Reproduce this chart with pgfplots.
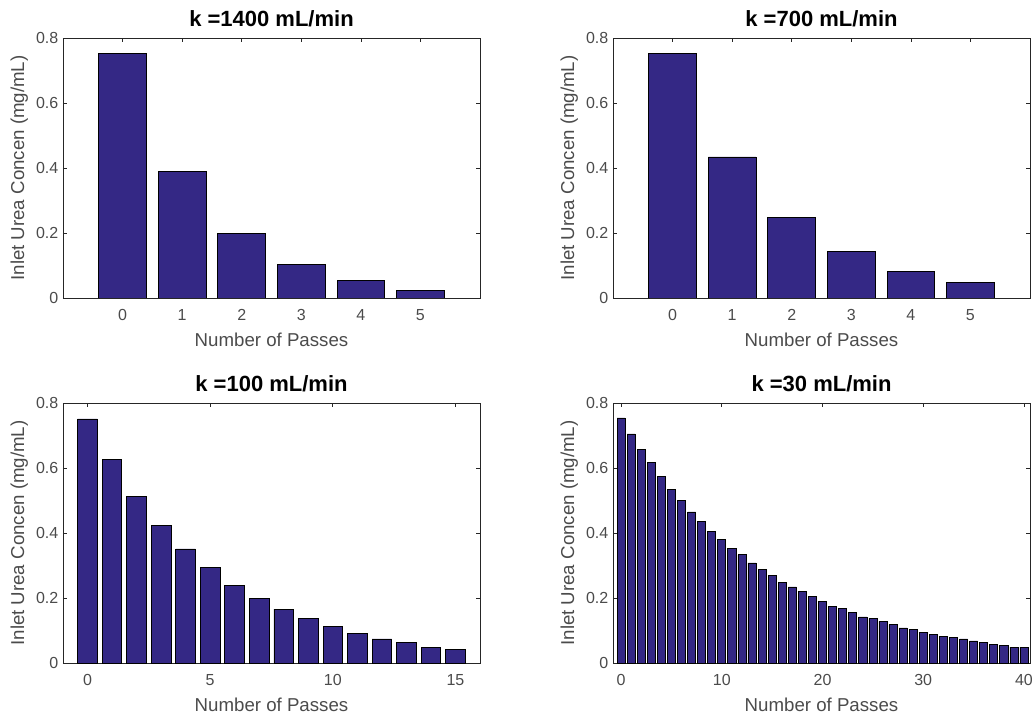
\documentclass[border=0pt]{standalone}
\usepackage{fontspec}
\setmainfont{Liberation Sans}
\usepackage{pgfplots}
\pgfplotsset{compat=1.18}

\definecolor{barfill}{RGB}{52,40,133}
\definecolor{axgray}{RGB}{38,38,38}
\definecolor{txtgray}{RGB}{75,75,75}

\begin{document}
\begin{tikzpicture}

% MATLAB-like subplot style (1 px = 0.75 pt)
\pgfplotsset{
  mpanel/.style={
    scale only axis,
    width=312.75pt, height=195pt,
    anchor=south west,
    ymin=0, ymax=0.8,
    ytick={0,0.2,0.4,0.6,0.8},
    yticklabels={0,0.2,0.4,0.6,0.8},
    axis line style={axgray, line width=0.6pt},
    tick style={axgray, line width=0.5pt},
    tick align=inside,
    major tick length=3pt,
    xtick pos=both, ytick pos=both,
    ticklabel style={font=\fontsize{12}{14}\selectfont, text=txtgray},
    xticklabel style={anchor=base, yshift=-17pt},
    /pgf/number format/assume math mode=true,
    xlabel={Number of Passes},
    ylabel={Inlet Urea Concen (mg/mL)},
    label style={font=\fontsize{14}{16}\selectfont, text=txtgray},
    xlabel style={at={(axis description cs:0.5,-0.188)}, anchor=base},
    ylabel style={at={(axis description cs:-0.105,0.5)}, anchor=center},
    every axis title shift=0pt,
    title style={font=\fontsize{16.5}{19}\selectfont\bfseries,
                 at={(axis description cs:0.5,1.046)}, anchor=base},
  },
  mbar/.style={ybar, bar width=0.8, bar shift=0pt,
    fill=barfill, draw=black, line width=0.6pt},
}

\useasboundingbox (0pt,0pt) rectangle (774pt,-537pt);

% ---- k = 1400 ----
\begin{axis}[mpanel, at={(47.25pt,-223.5pt)},
  title={k =1400 mL/min},
  xmin=-1, xmax=6, xtick={0,1,2,3,4,5}]
  \addplot[mbar] coordinates {(0,0.752) (1,0.390) (2,0.199) (3,0.103) (4,0.053) (5,0.024)};
\end{axis}

% ---- k = 700 ----
\begin{axis}[mpanel, at={(459.75pt,-223.5pt)},
  title={k =700 mL/min},
  xmin=-1, xmax=6, xtick={0,1,2,3,4,5}]
  \addplot[mbar] coordinates {(0,0.752) (1,0.434) (2,0.248) (3,0.142) (4,0.082) (5,0.048)};
\end{axis}

% ---- k = 100 ----
\begin{axis}[mpanel, at={(47.25pt,-497.25pt)},
  title={k =100 mL/min},
  xmin=-1, xmax=16, xtick={0,5,10,15}]
  \addplot[mbar] coordinates {
    (0,0.751) (1,0.625) (2,0.512) (3,0.424) (4,0.351) (5,0.293)
    (6,0.239) (7,0.200) (8,0.166) (9,0.137) (10,0.113) (11,0.092)
    (12,0.074) (13,0.064) (14,0.049) (15,0.043)};
\end{axis}

% ---- k = 30 ----
\begin{axis}[mpanel, at={(459.75pt,-497.25pt)},
  title={k =30 mL/min},
  xmin=-0.8, xmax=40.6, xtick={0,10,20,30,40}]
  \addplot[mbar, line width=0.5pt] coordinates {
    (0,0.754) (1,0.705) (2,0.656) (3,0.617) (4,0.573) (5,0.534)
    (6,0.499) (7,0.465) (8,0.435) (9,0.406) (10,0.381) (11,0.352)
    (12,0.333) (13,0.308) (14,0.289) (15,0.269) (16,0.249) (17,0.234)
    (18,0.221) (19,0.204) (20,0.190) (21,0.175) (22,0.167) (23,0.156)
    (24,0.142) (25,0.137) (26,0.128) (27,0.118) (28,0.108) (29,0.103)
    (30,0.093) (31,0.088) (32,0.082) (33,0.078) (34,0.074) (35,0.068)
    (36,0.064) (37,0.058) (38,0.053) (39,0.049) (40,0.049)};
\end{axis}

\end{tikzpicture}
\end{document}
